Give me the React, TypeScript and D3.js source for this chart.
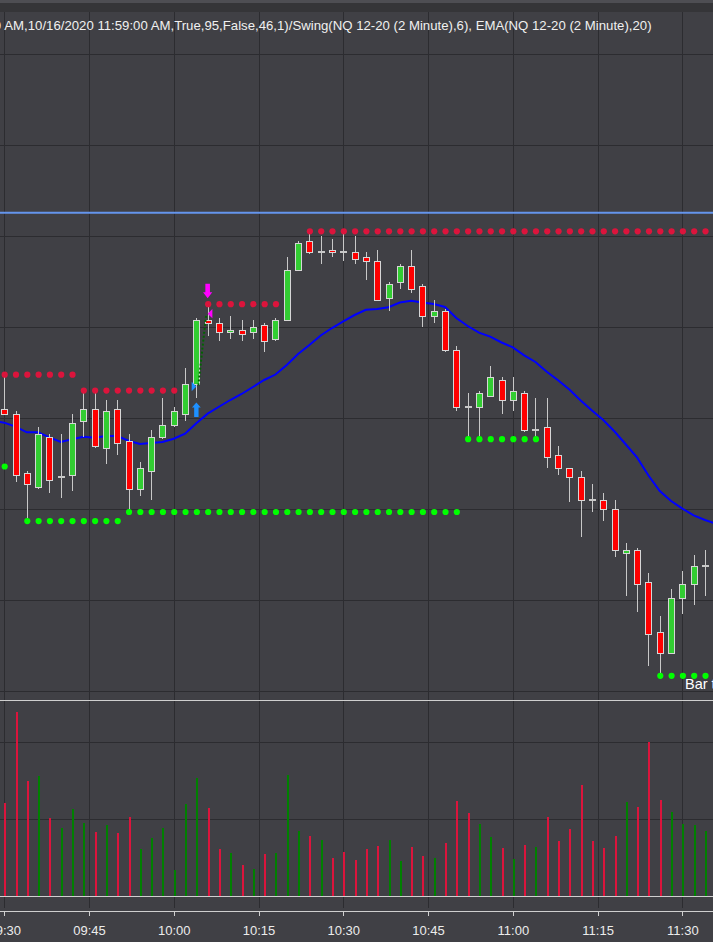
import React from "react";
import * as d3 from "d3";

const W = 713;
const H = 942;

const barTimes = [
  "09:30","09:32","09:34","09:36","09:38","09:40","09:42","09:44","09:46","09:48",
  "09:50","09:52","09:54","09:56","09:58","10:00","10:02","10:04","10:06","10:08",
  "10:10","10:12","10:14","10:16","10:18","10:20","10:22","10:24","10:26","10:28",
  "10:30","10:32","10:34","10:36","10:38","10:40","10:42","10:44","10:46","10:48",
  "10:50","10:52","10:54","10:56","10:58","11:00","11:02","11:04","11:06","11:08",
  "11:10","11:12","11:14","11:16","11:18","11:20","11:22","11:24","11:26","11:28",
  "11:30","11:32","11:34",
];

const open = [
  11881.0,11880.5,11874.0,11872.5,11878.0,11873.5,11873.75,11879.75,11881.0,11876.75,
  11881.0,11877.5,11872.25,11874.25,11878.0,11879.25,11880.5,11883.75,11890.75,11890.5,
  11889.5,11889.75,11889.5,11890.25,11888.75,11890.75,11896.25,11899.5,11898.25,11898.5,
  11898.25,11898.25,11897.75,11897.25,11893.25,11895.0,11896.75,11894.5,11891.25,11891.75,
  11887.5,11881.25,11881.25,11882.5,11884.25,11882.0,11882.75,11878.75,11879.0,11876.0,
  11874.5,11873.5,11871.0,11871.0,11870.0,11865.25,11865.5,11862.0,11856.5,11854.25,
  11860.25,11861.75,11863.75,
];
const high = [
  11884.5,11880.75,11874.25,11879.0,11878.25,11878.25,11880.5,11882.75,11882.75,11882.0,
  11882.0,11878.25,11875.25,11878.75,11882.25,11881.25,11885.5,11891.0,11892.25,11891.0,
  11891.25,11890.75,11890.75,11890.5,11891.0,11897.75,11899.5,11900.25,11900.0,11899.75,
  11900.25,11900.0,11898.25,11898.5,11895.0,11897.0,11898.5,11894.75,11893.0,11892.0,
  11888.0,11882.75,11883.0,11885.75,11884.5,11884.5,11883.0,11882.25,11882.25,11877.0,
  11874.5,11874.25,11872.75,11871.75,11871.0,11866.25,11865.75,11863.0,11858.25,11861.25,
  11863.25,11865.0,11865.5,
];
const low = [
  11880.5,11873.0,11869.0,11872.25,11871.75,11871.25,11872.0,11878.0,11876.75,11875.0,
  11876.0,11870.0,11871.5,11871.0,11877.75,11879.0,11879.75,11882.25,11889.0,11888.5,
  11888.75,11888.5,11888.75,11887.25,11888.5,11890.75,11896.25,11898.0,11897.0,11897.75,
  11897.25,11897.0,11895.25,11893.0,11891.75,11894.25,11893.75,11890.0,11890.5,11887.25,
  11880.75,11878.0,11878.0,11882.5,11880.5,11880.75,11878.5,11878.0,11874.5,11873.75,
  11870.75,11867.0,11869.75,11868.75,11864.75,11860.5,11858.75,11852.75,11852.0,11854.25,
  11858.5,11859.5,11860.5,
];
const close = [
  11880.5,11873.75,11872.75,11878.25,11873.25,11873.5,11879.5,11881.0,11877.0,11880.75,
  11877.25,11872.25,11874.5,11878.0,11879.25,11880.75,11883.75,11890.75,11890.5,11889.5,
  11889.75,11889.25,11890.0,11888.5,11890.75,11896.25,11899.25,11898.25,11898.25,11898.25,
  11898.25,11897.5,11897.25,11893.0,11894.75,11896.75,11894.25,11891.25,11891.75,11887.5,
  11881.25,11881.25,11882.75,11884.5,11882.0,11883.0,11878.75,11878.75,11875.75,11874.5,
  11873.5,11871.0,11871.0,11870.0,11865.5,11865.5,11861.75,11856.25,11854.25,11860.25,
  11861.75,11863.75,11863.75,
];

const volume = [
  2420,4792,3000,3129,2039,1779,2272,1909,1675,1857,
  1649,2065,1234,1519,1779,688,2402,3077,2306,1234,
  1130,818,714,1104,1130,3155,1701,1579,1467,1000,
  1156,948,1234,1311,1467,914,1286,1052,1000,1389,
  2480,2168,1883,1545,1260,974,1337,1286,2065,1441,
  1753,2896,1441,1260,1571,2454,2324,4012,2506,2194,
  1883,1857,1701,
];
const volumeUp = [
  0,0,0,1,0,1,1,1,0,1,
  0,0,1,1,1,1,1,1,0,0,
  1,0,1,0,1,1,1,0,1,0,
  0,0,0,0,1,1,0,0,1,0,
  0,0,1,1,0,1,0,1,0,0,
  0,0,0,0,0,1,0,0,0,1,
  1,1,1,
];

const emaTimes = ["09:28", ...barTimes, "11:36"];
const ema = [
  11879.7,
  11879.52,11879.08,11878.46,11878.46,11877.91,11877.40,11877.69,11877.98,11877.87,11878.05,
  11878.05,11877.54,11877.18,11877.29,11877.40,11877.76,11878.31,11879.45,11880.51,11881.27,
  11882.01,11882.67,11883.44,11884.21,11884.81,11885.86,11887.07,11888.05,11889.10,11889.92,
  11890.64,11891.35,11891.92,11892.01,11892.20,11892.73,11892.92,11892.73,11892.56,11892.23,
  11891.02,11890.14,11889.41,11888.97,11888.33,11887.80,11886.91,11886.19,11885.12,11884.18,
  11883.16,11881.96,11880.86,11879.81,11878.55,11877.12,11875.67,11873.71,11872.01,11870.91,
  11870.07,11869.34,11868.82,
  11868.4,
];

const swingHighs = [
  { from: "09:30", to: "09:42", price: 11884.5 },
  { from: "09:44", to: "10:00", price: 11882.75 },
  { from: "10:06", to: "10:18", price: 11892.25 },
  { from: "10:24", to: "11:34", price: 11900.25 },
];
const swingLows = [
  { from: "09:30", to: "09:30", price: 11875.0 },
  { from: "09:34", to: "09:50", price: 11869.0 },
  { from: "09:52", to: "10:50", price: 11870.0 },
  { from: "10:52", to: "11:04", price: 11878.0 },
  { from: "11:26", to: "11:34", price: 11852.0 },
];

const priceGrid = [11850, 11860, 11870, 11880, 11890, 11900, 11910, 11920];
const volumeGrid = [2000, 4000];
const timeTicks = ["09:30","09:45","10:00","10:15","10:30","10:45","11:00","11:15","11:30"];
const horizontalLinePrice = 11902.6;
const entryMark = { time: "10:04", price: 11883.5 };
const exitMark = { time: "10:06", price: 11891.5 };
const buySignal = { time: "10:04", price: 11881.75 };
const sellSignal = { time: "10:06", price: 11893.2 };
const headerText =
  "AM,10/16/2020 11:59:00 AM,True,95,False,46,1)/Swing(NQ 12-20 (2 Minute),6), EMA(NQ 12-20 (2 Minute),20)";
const barTimerText = "Bar timer disabled";

const BG = "#404045";
const GRID = "#2c2c30";
const LIGHT = "#cfcfcf";
const WICK = "#c8c8c8";
const UP = "#32cd32";
const DOWN = "#ff0000";
const VOL_UP = "#008000";
const VOL_DOWN = "#dc143c";
const FONT = "'Liberation Sans', Arial, sans-serif";

const parse = d3.timeParse("%H:%M");

export default function App() {
  const x = d3
    .scaleTime()
    .domain([parse("09:30")!, parse("11:30")!])
    .range([4.2, 682.4]);
  const y = d3.scaleLinear().domain([11850, 11920]).range([691.3, 54.3]);
  const vy = d3.scaleLinear().domain([0, 4000]).range([896.5, 742.3]);

  const px = (t: string) => x(parse(t)!);
  const col = (t: string) => Math.round(px(t));

  const emaLine = d3
    .line<number>()
    .x((_, i) => px(emaTimes[i]))
    .y((d) => y(d))(ema) as string;

  const inRange = (t: string, a: string, b: string) => t >= a && t <= b;

  const hiDots: { cx: number; cy: number }[] = [];
  swingHighs.forEach((s) =>
    barTimes.forEach((t) => {
      if (inRange(t, s.from, s.to)) hiDots.push({ cx: px(t), cy: y(s.price) - 2.7 });
    })
  );
  const loDots: { cx: number; cy: number }[] = [];
  swingLows.forEach((s) =>
    barTimes.forEach((t) => {
      if (inRange(t, s.from, s.to)) loDots.push({ cx: px(t), cy: y(s.price) + 2.7 });
    })
  );

  const ex = px(entryMark.time);
  const ey = y(entryMark.price);
  const xx = px(exitMark.time);
  const xy = y(exitMark.price);
  const bx = px(buySignal.time);
  const by = y(buySignal.price);
  const sx = px(sellSignal.time);
  const sy = y(sellSignal.price);

  return (
    <svg
      width={W}
      height={H}
      style={{ position: "absolute", left: 0, top: 0, display: "block" }}
      xmlns="http://www.w3.org/2000/svg"
    >
      <defs>
        <clipPath id="pricePanel">
          <rect x={0} y={12} width={W} height={688} />
        </clipPath>
        <clipPath id="volPanel">
          <rect x={0} y={701} width={W} height={196} />
        </clipPath>
      </defs>
      <rect x={0} y={0} width={W} height={H} fill={BG} />
      <rect x={0} y={0} width={W} height={3} fill="#4e4e53" />
      <rect x={0} y={3} width={W} height={9} fill="#353538" />

      {/* grid */}
      <g shapeRendering="crispEdges">
        {timeTicks.map((t) => (
          <line key={t} x1={col(t) + 0.5} x2={col(t) + 0.5} y1={12} y2={908} stroke={GRID} strokeWidth={1} />
        ))}
        {priceGrid.map((p) => (
          <line key={p} x1={0} x2={W} y1={Math.round(y(p)) + 0.5} y2={Math.round(y(p)) + 0.5} stroke={GRID} />
        ))}
        {volumeGrid.map((v) => (
          <line key={v} x1={0} x2={W} y1={Math.round(vy(v)) + 0.5} y2={Math.round(vy(v)) + 0.5} stroke={GRID} />
        ))}
      </g>

      <g clipPath="url(#pricePanel)">
        {/* user horizontal line */}
        <line x1={0} x2={W} y1={y(horizontalLinePrice)} y2={y(horizontalLinePrice)} stroke="#6495ed" strokeWidth={2} />

        {/* EMA */}
        <path d={emaLine} fill="none" stroke="#0000ff" strokeWidth={2} />

        {/* candles */}
        <g shapeRendering="crispEdges">
          {barTimes.map((t, i) => {
            const c = col(t);
            const o = open[i], cl = close[i];
            const yTop = Math.round(y(Math.max(o, cl)));
            const yBot = Math.round(y(Math.min(o, cl)));
            const wick = (
              <line x1={c + 0.5} x2={c + 0.5} y1={Math.round(y(high[i]))} y2={Math.round(y(low[i]))} stroke={WICK} strokeWidth={1} />
            );
            if (o === cl) {
              return (
                <g key={t}>
                  {wick}
                  <rect x={c - 3} y={yTop - 1} width={7} height={2} fill={WICK} />
                </g>
              );
            }
            return (
              <g key={t}>
                {wick}
                <rect
                  x={c - 2.5}
                  y={yTop + 0.5}
                  width={6}
                  height={Math.max(yBot - yTop, 1)}
                  fill={cl > o ? UP : DOWN}
                  stroke="#d6d6d6"
                  strokeWidth={1}
                />
              </g>
            );
          })}
        </g>

        {/* swing dots */}
        {hiDots.map((d, i) => (
          <circle key={"h" + i} cx={d.cx + 0.5} cy={d.cy} r={3.1} fill="#dc143c" />
        ))}
        {loDots.map((d, i) => (
          <circle key={"l" + i} cx={d.cx + 0.5} cy={d.cy} r={3.1} fill="#00ff00" />
        ))}

        {/* trade markers */}
        <line x1={ex + 2} y1={ey - 1} x2={xx - 1.5} y2={xy + 1} stroke="#006400" strokeWidth={2} strokeDasharray="2,2" />
        <path d={`M${ex},${ey} L${ex - 4.7},${ey - 4.8} L${ex - 4.7},${ey + 4.8} Z`} fill="#1e90ff" />
        <path d={`M${xx},${xy} L${xx + 4.7},${xy - 4.6} L${xx + 4.7},${xy + 4.6} Z`} fill="#ff00ff" />
        <path
          d={`M${bx},${by} L${bx + 4.4},${by + 5} L${bx + 2.2},${by + 5} L${bx + 2.2},${by + 14.5} L${bx - 2.2},${by + 14.5} L${bx - 2.2},${by + 5} L${bx - 4.4},${by + 5} Z`}
          fill="#1e90ff"
        />
        <path
          d={`M${sx},${sy} L${sx + 4.6},${sy - 6} L${sx + 2.3},${sy - 6} L${sx + 2.3},${sy - 14.5} L${sx - 2.3},${sy - 14.5} L${sx - 2.3},${sy - 6} L${sx - 4.6},${sy - 6} Z`}
          fill="#ff00ff"
        />

        <text x={685} y={689} fill="#ffffff" fontFamily={FONT} fontSize={14.5}>
          {barTimerText}
        </text>
      </g>

      {/* panel divider */}
      <line x1={0} x2={W} y1={700.5} y2={700.5} stroke={LIGHT} strokeWidth={1} shapeRendering="crispEdges" />

      {/* volume */}
      <g clipPath="url(#volPanel)" shapeRendering="crispEdges">
        {barTimes.map((t, i) => {
          const c = col(t);
          const up = close[i] > open[i] ? true : close[i] < open[i] ? false : volumeUp[i] === 1;
          const top = Math.round(vy(volume[i]));
          return (
            <rect key={t} x={c - 0.5} y={top} width={2} height={Math.round(vy(0)) - top} fill={up ? VOL_UP : VOL_DOWN} />
          );
        })}
      </g>
      <line x1={0} x2={W} y1={896.5} y2={896.5} stroke={LIGHT} strokeWidth={1} shapeRendering="crispEdges" />

      {/* time axis */}
      <line x1={0} x2={W} y1={911.5} y2={911.5} stroke={LIGHT} strokeWidth={1} shapeRendering="crispEdges" />
      {timeTicks.map((t) => (
        <g key={t}>
          <line x1={col(t) + 0.5} x2={col(t) + 0.5} y1={911} y2={916} stroke={LIGHT} shapeRendering="crispEdges" />
          <text x={px(t) + 0.5} y={935} textAnchor="middle" fill="#ececec" fontFamily={FONT} fontSize={13}>
            {t}
          </text>
        </g>
      ))}

      {/* header */}
      <text x={1} y={30} textAnchor="end" fill="#f0f0f0" fontFamily={FONT} fontSize={13.2}>
        0
      </text>
      <text x={4.3} y={30} fill="#f0f0f0" fontFamily={FONT} fontSize={13.2}>
        {headerText}
      </text>
    </svg>
  );
}
